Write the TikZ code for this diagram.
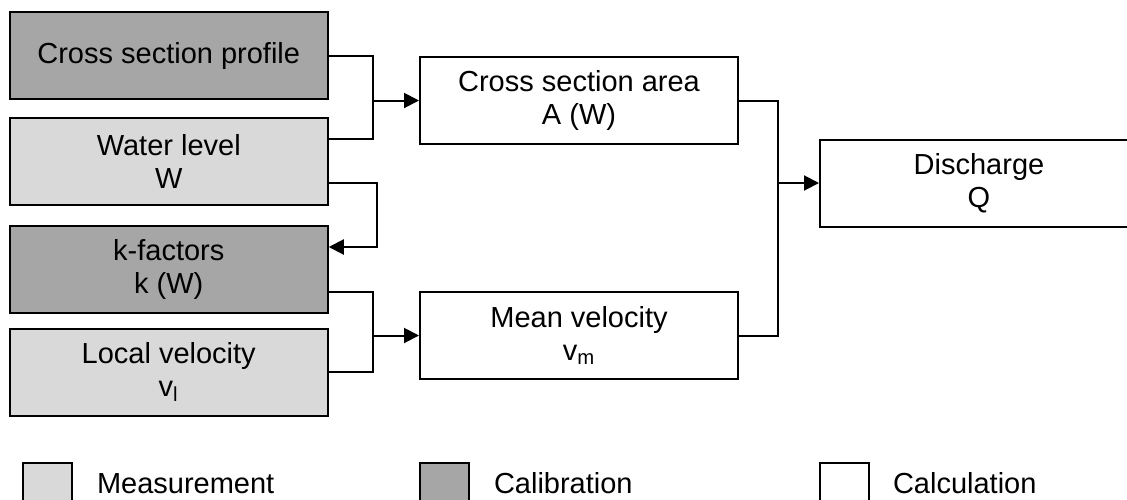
\documentclass[tikz,border=0pt]{standalone}
\usepackage{fontspec}
\setmainfont{Liberation Sans}
\usetikzlibrary{arrows.meta}
\definecolor{measgray}{RGB}{217,217,217}
\definecolor{calibgray}{RGB}{166,166,166}
\begin{document}
\begin{tikzpicture}[x=0.5pt,y=-0.5pt,nodes={draw,rectangle,line width=1pt,align=center,inner sep=0pt,font=\fontsize{14.5}{16.5}\selectfont},
  box/.style={minimum width=159pt,minimum height=43.5pt},
  meas/.style={box,fill=measgray}, calib/.style={box,fill=calibgray}, calc/.style={box,fill=white},
  key/.style={minimum width=24.5pt,minimum height=24.5pt},
  keytext/.style={draw=none,anchor=base west},
  link/.style={line width=1pt}, arrow/.style={link,-{Triangle[length=7.5pt,width=7.5pt]}}]
\path[use as bounding box,clip] (0,0) rectangle (1127,499);
\node[calib] (csp) at (168.75,55.5) {Cross section profile};
\node[meas] (wl) at (168.75,161.5) {Water level \\ W};
\node[calib] (kf) at (168.75,269.5) {k-factors \\ k (W)};
\node[meas] (lv) at (168.75,372) {Local velocity \\ v\textsubscript{l}};
\node[calc] (csa) at (579,100.5) {Cross section area \\ A (W)};
\node[calc] (mv) at (579,335.5) {Mean velocity \\ v\textsubscript{m}};
\node[calc] (q) at (979,183) {Discharge \\ Q};
\node[meas,key] (kmeas) at (47.5,487.5) {};
\node[calib,key] (kcalib) at (444,487.5) {};
\node[calc,key] (kcalc) at (844.5,487.5) {};
\node[keytext] (tmeas) at (96,493) {Measurement};
\node[keytext] (tcalib) at (493,493) {Calibration};
\node[keytext] (tcalc) at (892,493) {Calculation};
\coordinate (jcsa) at ([xshift=-23pt]csa.west);
\coordinate (jmv) at ([xshift=-23pt]mv.west);
\coordinate (jq) at ([xshift=-20.5pt]q.west);
\draw[link] (csp.east) -| (jcsa) |- ([yshift=11.25pt]wl.east);
\draw[arrow] (jcsa) -- (csa.west);
\draw[arrow] ([yshift=-10.75pt]wl.east) -- ++(48,0) |- ([yshift=11.25pt]kf.east);
\draw[link] ([yshift=-11.25pt]kf.east) -| (jmv) |- (lv.east);
\draw[arrow] (jmv) -- (mv.west);
\draw[link] (csa.east) -| (jq) |- (mv.east);
\draw[arrow] (jq) -- (q.west);
\end{tikzpicture}
\end{document}
